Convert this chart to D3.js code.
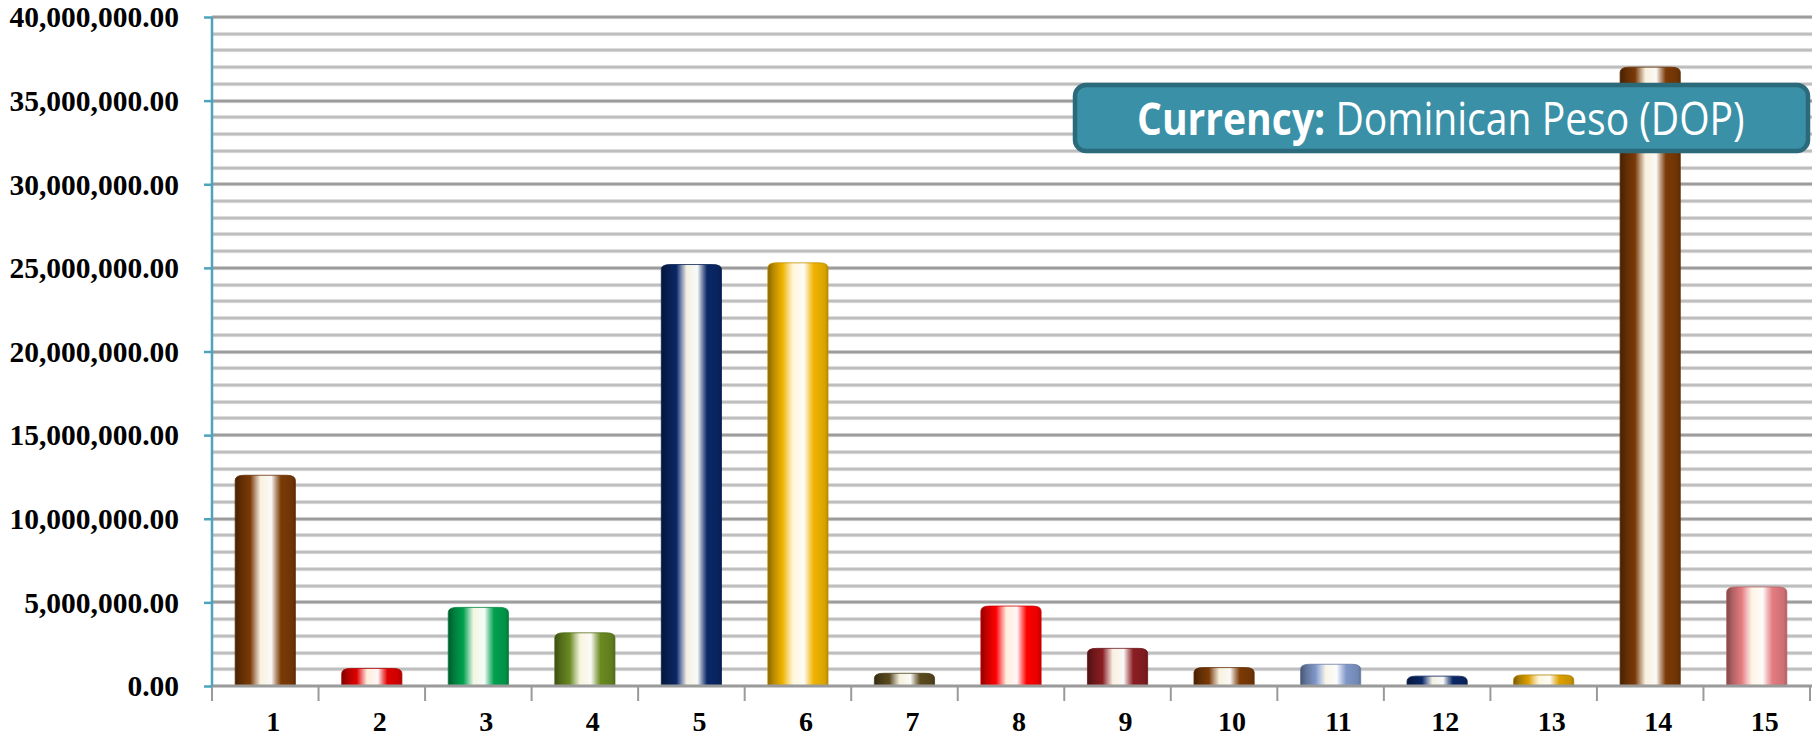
<!DOCTYPE html>
<html>
<head>
<meta charset="utf-8">
<script src="https://cdn.jsdelivr.net/npm/d3@7"></script>
<style>
  body { margin: 0; background: #fff; }
  svg { display: block; }
</style>
</head>
<body>
<svg id="chart"></svg>
<script>
// chart values
let categories = ["1", "2", "3", "4", "5", "6", "7", "8", "9", "10", "11", "12", "13", "14", "15"];
let values = [12600000, 1050000, 4700000, 3180000, 25200000, 25300000, 760000, 4780000, 2250000, 1100000, 1300000, 590000, 660000, 37000000, 5920000];
let barColors = ["#7b3a06", "#e00000", "#00a04e", "#6a8a20", "#0a2766", "#f0b400", "#5a4a1e", "#ff0000", "#8a1e22", "#7b3a06", "#7f97c8", "#0a2766", "#dca000", "#7b3a06", "#e47c80"];
let yTicks = [0, 5000000, 10000000, 15000000, 20000000, 25000000, 30000000, 35000000, 40000000];
let minorStep = 1000000;
let currencyLabel = "Currency:";
let currencyName = " Dominican Peso (DOP)";

let width = 1812;
let height = 738;

let paddingLeft = 212;
let paddingRight = 2;
let paddingTop = 17;
let zeroY = 686;

let svg = d3.select("#chart")
    .attr("width", width)
    .attr("height", height);

let xScale = d3.scaleBand()
    .domain(categories)
    .range([paddingLeft, width - paddingRight])
    .padding(0);

let yScale = d3.scaleLinear()
    .domain([0, 40000000])
    .range([zeroY, paddingTop]);

// gridlines, minor every million, major every 5 million
let gridVals = d3.range(minorStep, 40000000 + 1, minorStep);
let grid = svg.append("g");
gridVals.forEach(v => {
    let major = v % 5000000 === 0;
    let y = Math.round(yScale(v));
    grid.append("line")
        .attr("x1", paddingLeft).attr("x2", width)
        .attr("y1", y + 1.5).attr("y2", y + 1.5)
        .attr("stroke", "#ececec").attr("stroke-width", 1.5);
    grid.append("line")
        .attr("x1", paddingLeft).attr("x2", width)
        .attr("y1", y).attr("y2", y)
        .attr("stroke", major ? "#9c9c9c" : "#bebebe")
        .attr("stroke-width", 3);
});

// gradients for the cylinders
let defs = svg.append("defs");
barColors.forEach((c, i) => {
    let base = d3.color(c);
    let g = defs.append("linearGradient")
        .attr("id", "grad" + i)
        .attr("x1", "0%").attr("x2", "100%")
        .attr("y1", "0%").attr("y2", "0%");
    let stops = [
        [0, base.darker(1.6)],
        [0.1, base.darker(0.7)],
        [0.25, base],
        [0.34, d3.interpolateRgb(base, "#fff")(0.5)],
        [0.42, d3.interpolateRgb(base, "#fffbe8")(0.95)],
        [0.6, d3.interpolateRgb(base, "#fff")(0.97)],
        [0.68, d3.interpolateRgb(base, "#fff")(0.45)],
        [0.76, base],
        [0.95, base.darker(0.3)],
        [1, base.darker(0.8)]
    ];
    stops.forEach(s => {
        g.append("stop")
            .attr("offset", (s[0] * 100) + "%")
            .attr("stop-color", d3.color(s[1]).formatHex());
    });
});

// bars
let barW = xScale.bandwidth() * 0.565;
let bars = svg.append("g");
categories.forEach((cat, i) => {
    let cx = xScale(cat) + xScale.bandwidth() / 2;
    let x0 = cx - barW / 2;
    let x1 = cx + barW / 2;
    let top = yScale(values[i]);
    let rx = 9, ry = Math.min(5, (zeroY - top) / 2);
    let p = d3.path();
    p.moveTo(x0, zeroY);
    p.lineTo(x0, top + ry);
    p.quadraticCurveTo(x0, top, x0 + rx, top);
    p.lineTo(x1 - rx, top);
    p.quadraticCurveTo(x1, top, x1, top + ry);
    p.lineTo(x1, zeroY);
    p.closePath();
    bars.append("path")
        .attr("d", p.toString())
        .attr("fill", "url(#grad" + i + ")")
        .attr("stroke", d3.color(barColors[i]).darker(0.6))
        .attr("stroke-width", 0.8);
});

// x axis
let xAxisG = svg.append("g");
xAxisG.append("line")
    .attr("x1", paddingLeft).attr("x2", width)
    .attr("y1", zeroY).attr("y2", zeroY)
    .attr("stroke", "#9a9a9a").attr("stroke-width", 3);
let edges = categories.map(c => xScale(c)).concat([xScale.range()[1]]);
edges.forEach(x => {
    xAxisG.append("line")
        .attr("x1", x).attr("x2", x)
        .attr("y1", zeroY).attr("y2", zeroY + 15)
        .attr("stroke", "#9a9a9a").attr("stroke-width", 2);
});
xAxisG.selectAll("text.xl")
    .data(categories)
    .enter().append("text")
    .attr("class", "xl")
    .attr("x", d => xScale(d) + xScale.bandwidth() / 2 + 8)
    .attr("y", 731)
    .attr("text-anchor", "middle")
    .attr("font-family", "'Liberation Serif', 'Times New Roman', serif")
    .attr("font-weight", "bold")
    .attr("font-size", 28)
    .attr("fill", "#000")
    .text(d => d);

// y axis
let yAxis = d3.axisLeft(yScale)
    .tickValues(yTicks)
    .tickSize(8)
    .tickPadding(25)
    .tickFormat(d3.format(",.2f"));

let yAxisG = svg.append("g")
    .attr("transform", "translate(" + paddingLeft + ",0)")
    .call(yAxis);
yAxisG.select(".domain")
    .attr("stroke", "#4ea3bd").attr("stroke-width", 2.5)
    .attr("d", "M0," + zeroY + "V" + paddingTop);
yAxisG.selectAll(".tick line")
    .attr("stroke", "#4ea3bd").attr("stroke-width", 2.5);
yAxisG.selectAll(".tick text")
    .attr("font-family", "'Liberation Serif', 'Times New Roman', serif")
    .attr("font-weight", "bold")
    .attr("font-size", 29.5)
    .attr("fill", "#000")
    .attr("dy", "0.33em");

// currency box
let box = svg.append("g");
box.append("rect")
    .attr("x", 1075).attr("y", 85)
    .attr("width", 733).attr("height", 66)
    .attr("rx", 11)
    .attr("fill", "#3a90a7")
    .attr("stroke", "#2b6a7a")
    .attr("stroke-width", 4.5);
let label = box.append("text")
    .attr("x", 1137).attr("y", 135)
    .attr("font-family", "'Open Sans', sans-serif")
    .attr("font-size", 45)
    .attr("fill", "#fff");
label.append("tspan").attr("font-weight", "bold").text(currencyLabel);
label.append("tspan").text(currencyName);
let tw = label.node().getComputedTextLength();
let sx = 608 / tw;
label.attr("transform", "translate(1137,0) scale(" + sx + ",1) translate(-1137,0)");
</script>
</body>
</html>
